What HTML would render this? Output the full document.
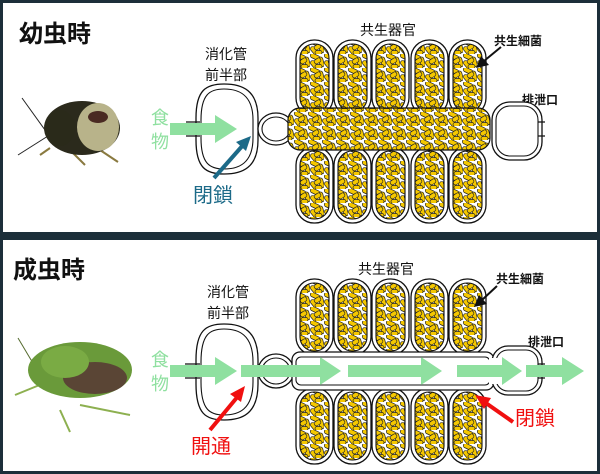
<!DOCTYPE html>
<html><head><meta charset="utf-8"><style>
html,body{margin:0;padding:0;background:#1c2f3a;}
svg{display:block}
text{font-family:"Liberation Sans","Noto Sans CJK JP",sans-serif;}
</style></head><body>
<svg width="600" height="474" viewBox="0 0 600 474" xmlns="http://www.w3.org/2000/svg">
<defs>
<pattern id="bac" width="14" height="14" patternUnits="userSpaceOnUse">
<rect width="14" height="14" fill="#fff"/>
<g fill="#f5c800" stroke="#222" stroke-width="0.7">
<rect x="0" y="0.5" width="10" height="4.5" rx="2.2" transform="rotate(25 5 3)"/>
<rect x="9" y="3" width="4.5" height="10" rx="2.2" transform="rotate(-15 11 8)"/>
<rect x="0" y="8" width="9" height="4.5" rx="2.2" transform="rotate(50 4 10)"/>
<rect x="4" y="5" width="7" height="4.5" rx="2.2" transform="rotate(-35 7 7)"/>
<rect x="5" y="10.5" width="7" height="4" rx="2"/>
</g>
</pattern>
<g id="cap">
<rect x="0" y="0" width="37" height="76" rx="18" fill="#fff" stroke="#111" stroke-width="1.3"/>
<rect x="4" y="4" width="29" height="68" rx="14" fill="url(#bac)" stroke="#111" stroke-width="1.1"/>
</g>
</defs>

<rect x="3" y="3" width="594" height="229" fill="#fff"/>
<rect x="3" y="240" width="594" height="231" fill="#fff"/>

<!-- TOP PANEL -->
<text x="19" y="42" font-size="24" font-weight="bold" fill="#111">幼虫時</text>
<text x="205" y="59" font-size="14" fill="#111">消化管</text>
<text x="205" y="80" font-size="14" fill="#111">前半部</text>
<text x="360" y="35" font-size="14" fill="#111">共生器官</text>
<text x="494" y="45" font-size="12" font-weight="bold" fill="#111">共生細菌</text>
<text x="522" y="104" font-size="12" font-weight="bold" fill="#111">排泄口</text>

<g>
<line x1="22" y1="98" x2="45" y2="130" stroke="#222" stroke-width="1"/>
<line x1="18" y1="155" x2="48" y2="136" stroke="#222" stroke-width="1"/>
<line x1="70" y1="150" x2="85" y2="165" stroke="#8a7a40" stroke-width="2"/>
<line x1="100" y1="150" x2="118" y2="162" stroke="#8a7a40" stroke-width="2"/>
<line x1="50" y1="148" x2="40" y2="155" stroke="#8a7a40" stroke-width="2"/>
<ellipse cx="82" cy="128" rx="38" ry="27" fill="#2b2a1c"/>
<ellipse cx="98" cy="127" rx="21" ry="24" fill="#b8b38a"/>
<ellipse cx="98" cy="117" rx="10" ry="6" fill="#4a2a22"/>
<ellipse cx="60" cy="128" rx="15" ry="18" fill="#2a2a1a"/>
</g>

<path d="M196,118 C196,90 206,84 224,84 C242,84 258,90 258,118 L258,140 C258,168 242,174 224,174 C206,174 196,168 196,140 Z" fill="#fff" stroke="#111" stroke-width="1.3"/>
<path d="M201,120 C201,94 210,89 224,89 C238,89 253,94 253,120 L253,138 C253,164 238,169 224,169 C210,169 201,164 201,138 Z" fill="#fff" stroke="#111" stroke-width="1.1"/>
<path d="M186,122 L200,122 M186,136 L200,136" stroke="#111" stroke-width="1.2"/>
<ellipse cx="276" cy="129" rx="18" ry="16" fill="#fff" stroke="#111" stroke-width="1.3"/>
<ellipse cx="276" cy="129" rx="14" ry="12" fill="#fff" stroke="#111" stroke-width="1.1"/>
<use href="#cap" x="296" y="40"/><use href="#cap" x="334" y="40"/><use href="#cap" x="372" y="40"/><use href="#cap" x="411" y="40"/><use href="#cap" x="449" y="40"/>
<use href="#cap" x="296" y="147"/><use href="#cap" x="334" y="147"/><use href="#cap" x="372" y="147"/><use href="#cap" x="411" y="147"/><use href="#cap" x="449" y="147"/>
<rect x="288" y="108" width="202" height="42" rx="12" fill="url(#bac)" stroke="#111" stroke-width="1.2"/>
<rect x="492" y="102" width="50" height="58" rx="18" fill="#fff" stroke="#111" stroke-width="1.3"/>
<rect x="496" y="106" width="42" height="50" rx="14" fill="#fff" stroke="#111" stroke-width="1.1"/>
<path d="M538,122 L545,122 M538,136 L545,136" stroke="#111" stroke-width="1.2"/>
<line x1="484" y1="61" x2="501" y2="47" stroke="#111" stroke-width="2"/>
<path d="M476,68 L481,56 L489,65 Z" fill="#111"/>
<text x="151" y="124" font-size="18" fill="#8fe0a0">食</text>
<text x="151" y="148" font-size="18" fill="#8fe0a0">物</text>
<path d="M170,123 L215,123 L215,115 L237,129 L215,143 L215,135 L170,135 Z" fill="#8fe0a0"/>
<line x1="214" y1="178" x2="244" y2="144" stroke="#1c6a88" stroke-width="4"/>
<path d="M251,136 L236,142 L246,151 Z" fill="#1c6a88"/>
<text x="193" y="202" font-size="20" fill="#1c6a88">閉鎖</text>

<!-- BOTTOM PANEL -->
<text x="13" y="278" font-size="24" font-weight="bold" fill="#111">成虫時</text>
<text x="207" y="297" font-size="14" fill="#111">消化管</text>
<text x="207" y="318" font-size="14" fill="#111">前半部</text>
<text x="358" y="274" font-size="14" fill="#111">共生器官</text>
<text x="496" y="283" font-size="12" font-weight="bold" fill="#111">共生細菌</text>
<text x="528" y="346" font-size="12" font-weight="bold" fill="#111">排泄口</text>

<g>
<line x1="18" y1="338" x2="40" y2="375" stroke="#556b2f" stroke-width="1"/>
<line x1="15" y1="395" x2="42" y2="384" stroke="#8db050" stroke-width="2"/>
<line x1="60" y1="410" x2="70" y2="432" stroke="#8db050" stroke-width="2"/>
<line x1="80" y1="405" x2="130" y2="415" stroke="#8db050" stroke-width="2"/>
<line x1="80" y1="352" x2="104" y2="348" stroke="#8db050" stroke-width="2"/>
<ellipse cx="80" cy="370" rx="52" ry="28" fill="#6a9a3a"/>
<ellipse cx="95" cy="378" rx="32" ry="16" fill="#5a4535"/>
<ellipse cx="65" cy="362" rx="24" ry="16" fill="#7aab44"/>
</g>

<g stroke="#111" stroke-width="1.3">
<line x1="314" y1="345" x2="314" y2="356"/><line x1="352" y1="345" x2="352" y2="356"/><line x1="390" y1="345" x2="390" y2="356"/><line x1="429" y1="345" x2="429" y2="356"/><line x1="467" y1="345" x2="467" y2="356"/>
<line x1="314" y1="386" x2="314" y2="395"/><line x1="352" y1="386" x2="352" y2="395"/><line x1="390" y1="386" x2="390" y2="395"/><line x1="429" y1="386" x2="429" y2="395"/><line x1="467" y1="386" x2="467" y2="395"/>
</g>
<use href="#cap" x="296" y="279"/><use href="#cap" x="334" y="279"/><use href="#cap" x="372" y="279"/><use href="#cap" x="411" y="279"/><use href="#cap" x="449" y="279"/>
<use href="#cap" x="296" y="388"/><use href="#cap" x="334" y="388"/><use href="#cap" x="372" y="388"/><use href="#cap" x="411" y="388"/><use href="#cap" x="449" y="388"/>
<path d="M196,360 C196,330 206,324 224,324 C242,324 258,330 258,360 L258,384 C258,414 242,420 224,420 C206,420 196,414 196,384 Z" fill="#fff" stroke="#111" stroke-width="1.3"/>
<path d="M201,362 C201,334 210,329 224,329 C238,329 253,334 253,362 L253,382 C253,410 238,415 224,415 C210,415 201,410 201,382 Z" fill="#fff" stroke="#111" stroke-width="1.1"/>
<path d="M185,364 L200,364 M185,378 L200,378" stroke="#111" stroke-width="1.2"/>
<!-- bulb + tube -->
<ellipse cx="276" cy="371" rx="18" ry="17" fill="#fff" stroke="#111" stroke-width="1.3"/>
<ellipse cx="276" cy="371" rx="14" ry="13" fill="#fff" stroke="#111" stroke-width="1.1"/>
<rect x="292" y="352" width="202" height="38" rx="8" fill="#fff" stroke="#111" stroke-width="1.3"/>
<rect x="296" y="357" width="194" height="28" rx="5" fill="#fff" stroke="#111" stroke-width="1.1"/>
<rect x="492" y="346" width="50" height="49" rx="16" fill="#fff" stroke="#111" stroke-width="1.3"/>
<rect x="496" y="350" width="42" height="41" rx="12" fill="#fff" stroke="#111" stroke-width="1.1"/>
<rect x="489" y="358" width="10" height="26" fill="#fff"/>
<path d="M538,364 L545,364 M538,378 L545,378" stroke="#111" stroke-width="1.2"/>
<text x="151" y="366" font-size="18" fill="#8fe0a0">食</text>
<text x="151" y="390" font-size="18" fill="#8fe0a0">物</text>
<g fill="#8fe0a0">
<path d="M170,365 L215,365 L215,357 L237,371 L215,385 L215,377 L170,377 Z"/>
<path d="M241,365 L320,365 L320,357 L341,371 L320,385 L320,377 L241,377 Z"/>
<path d="M348,365 L421,365 L421,357 L442,371 L421,385 L421,377 L348,377 Z"/>
<path d="M457,365 L502,365 L502,357 L522,371 L502,385 L502,377 L457,377 Z"/>
<path d="M526,365 L562,365 L562,357 L584,371 L562,385 L562,377 L526,377 Z"/>
</g>
<line x1="482" y1="300" x2="497" y2="286" stroke="#111" stroke-width="2"/>
<path d="M474,307 L479,295 L487,304 Z" fill="#111"/>
<line x1="210" y1="430" x2="239" y2="395" stroke="#f01010" stroke-width="4"/>
<path d="M245,386 L230,394 L241,402 Z" fill="#f01010"/>
<text x="191" y="453" font-size="20" fill="#f01010">開通</text>
<line x1="513" y1="422" x2="483" y2="401" stroke="#f01010" stroke-width="4"/>
<path d="M475,395 L484,409 L491,398 Z" fill="#f01010"/>
<text x="515" y="425" font-size="20" fill="#f01010">閉鎖</text>
</svg>
</body></html>
